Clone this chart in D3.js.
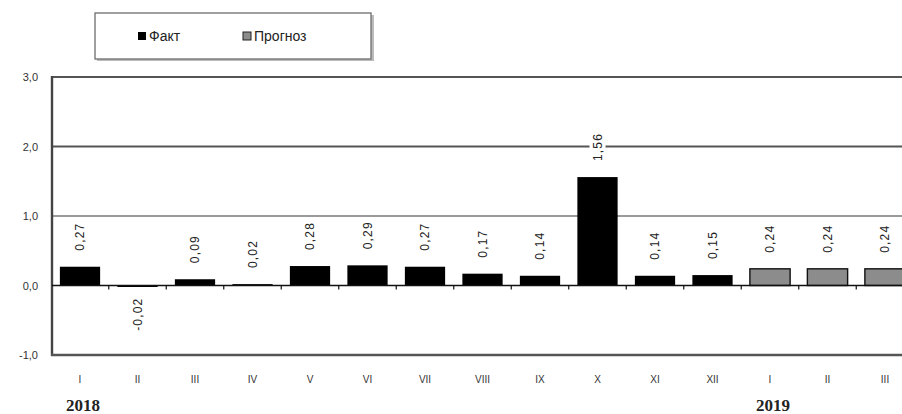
<!DOCTYPE html>
<html>
<head>
<meta charset="utf-8">
<script src="https://cdn.jsdelivr.net/npm/d3@7"></script>
<style>
  body { margin: 0; background: #fff; }
  svg { display: block; font-family: "Liberation Sans", Arial, sans-serif; }
</style>
</head>
<body>
<div id="chart"></div>
<script>
// month labels (roman) and which year they belong to
const months = ['I', 'II', 'III', 'IV', 'V', 'VI', 'VII', 'VIII', 'IX', 'X', 'XI', 'XII', 'I', 'II', 'III'];
const values = [0.27, -0.02, 0.09, 0.02, 0.28, 0.29, 0.27, 0.17, 0.14, 1.56, 0.14, 0.15, 0.24, 0.24, 0.24];
const kinds = ['fact', 'fact', 'fact', 'fact', 'fact', 'fact', 'fact', 'fact', 'fact', 'fact', 'fact', 'fact', 'fc', 'fc', 'fc'];
const yTicks = [-1, 0, 1, 2, 3];
const years = [{ label: '2018', at: 0 }, { label: '2019', at: 12 }];
const legendItems = [{ key: 'fact', name: 'Факт' }, { key: 'fc', name: 'Прогноз' }];

const W = 902, H = 414;
const fill = { fact: '#000000', fc: '#8c8c8c' };
const fmt = v => v.toFixed(2).replace('.', ',');

const svg = d3.select('#chart').append('svg')
    .attr('width', W)
    .attr('height', H);

// scales: band runs past the right edge, like the source crop
const x = d3.scaleBand()
    .domain(d3.range(months.length))
    .range([51.25, 51.25 + 57.5 * months.length])
    .paddingInner(0.3)
    .paddingOuter(0.15);

const y = d3.scaleLinear().domain([-1, 3]).range([355, 77]);

// gridlines (2,0 dark, 1,0 light grey)
svg.append('g')
    .selectAll('line')
    .data([1, 2, 3])
    .join('line')
    .attr('x1', 52).attr('x2', W)
    .attr('y1', d => y(d)).attr('y2', d => y(d))
    .attr('stroke', d => d === 1 ? '#9a9a9a' : '#555')
    .attr('stroke-width', d => d === 3 ? 2.2 : 2);

// axes frame: left + bottom
svg.append('line')
    .attr('x1', 52).attr('x2', 52)
    .attr('y1', y(3) - 1).attr('y2', y(-1) + 1)
    .attr('stroke', '#444').attr('stroke-width', 2.4);
svg.append('line')
    .attr('x1', 51).attr('x2', W)
    .attr('y1', y(-1)).attr('y2', y(-1))
    .attr('stroke', '#555').attr('stroke-width', 2.6);

// y tick labels
svg.append('g')
    .selectAll('text')
    .data(yTicks)
    .join('text')
    .attr('x', 38)
    .attr('y', d => y(d) + 4)
    .attr('text-anchor', 'end')
    .style('font-size', '11px')
    .style('fill', '#333')
    .text(d => d.toFixed(1).replace('.', ','));

// bars
svg.append('g')
    .selectAll('rect')
    .data(values)
    .join('rect')
    .attr('x', (d, i) => x(i))
    .attr('width', x.bandwidth())
    .attr('y', d => y(Math.max(0, d)))
    .attr('height', d => Math.max(1.5, Math.abs(y(d) - y(0))))
    .attr('fill', (d, i) => fill[kinds[i]])
    .attr('stroke', '#111')
    .attr('stroke-width', (d, i) => kinds[i] === 'fc' ? 1.4 : 0);

// zero line + tick marks at band edges
svg.append('line')
    .attr('x1', 52).attr('x2', W)
    .attr('y1', y(0)).attr('y2', y(0))
    .attr('stroke', '#111').attr('stroke-width', 1.4);
svg.append('g')
    .selectAll('line')
    .data(d3.range(1, months.length))
    .join('line')
    .attr('x1', i => x(i) - x.step() * x.paddingInner() / 2)
    .attr('x2', i => x(i) - x.step() * x.paddingInner() / 2)
    .attr('y1', y(0)).attr('y2', y(0) + 4)
    .attr('stroke', '#111').attr('stroke-width', 1.2);

// value labels, rotated, with white backing that cuts the gridlines
const lab = svg.append('g')
    .selectAll('g')
    .data(values)
    .join('g')
    .attr('transform', (d, i) => {
        const cx = x(i) + x.bandwidth() / 2;
        const cy = d >= 0 ? y(d) - 16 : y(0) + 12;
        return `translate(${cx + 4},${cy}) rotate(-90)`;
    });
lab.append('text')
    .attr('text-anchor', d => d >= 0 ? 'start' : 'end')
    .style('font-size', '12px')
    .style('letter-spacing', '1.2px')
    .style('fill', '#222')
    .text(d => fmt(d));
lab.each(function() {
    const g = d3.select(this);
    const bb = g.select('text').node().getBBox();
    g.insert('rect', 'text')
        .attr('x', bb.x - 3).attr('y', bb.y - 1)
        .attr('width', bb.width + 6).attr('height', bb.height + 2)
        .attr('fill', '#fff');
});

// month labels
svg.append('g')
    .selectAll('text')
    .data(months)
    .join('text')
    .attr('x', (d, i) => x(i) + x.bandwidth() / 2)
    .attr('y', 383)
    .attr('text-anchor', 'middle')
    .style('font-size', '10px')
    .style('fill', '#333')
    .text(d => d);

// year labels
svg.append('g')
    .selectAll('text')
    .data(years)
    .join('text')
    .attr('x', d => x(d.at) + x.bandwidth() / 2 + 3)
    .attr('y', 411)
    .attr('text-anchor', 'middle')
    .style('font-family', '"Liberation Serif", "DejaVu Serif", serif')
    .style('font-weight', 700)
    .style('font-size', '17px')
    .style('fill', '#222')
    .text(d => d.label);

// legend box
const lg = svg.append('g');
lg.append('rect')
    .attr('x', 97).attr('y', 15)
    .attr('width', 277).attr('height', 46)
    .attr('fill', '#bbb');
lg.append('rect')
    .attr('x', 95).attr('y', 13)
    .attr('width', 276).attr('height', 46)
    .attr('fill', '#fff')
    .attr('stroke', '#777').attr('stroke-width', 1.4);
const li = lg.selectAll('g')
    .data(legendItems)
    .join('g')
    .attr('transform', (d, i) => `translate(${i === 0 ? 138 : 243},36)`);
li.append('rect')
    .attr('x', 0).attr('y', -4)
    .attr('width', 8).attr('height', 8)
    .attr('fill', d => fill[d.key])
    .attr('stroke', '#222')
    .attr('stroke-width', d => d.key === 'fc' ? 1 : 0);
li.append('text')
    .attr('x', 11).attr('y', 5)
    .style('font-size', '14px')
    .style('fill', '#222')
    .text(d => d.name);
</script>
</body>
</html>
